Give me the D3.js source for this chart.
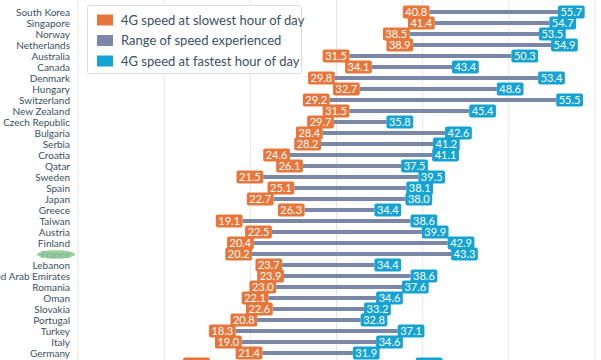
<!DOCTYPE html>
<html>
<head>
<meta charset="utf-8">
<script src="https://cdn.jsdelivr.net/npm/d3@7"></script>
<style>
  html, body { margin: 0; padding: 0; background: #fff; overflow: hidden; }
  svg { display: block; font-family: Lato, "Open Sans", sans-serif; }
</style>
</head>
<body>
<svg id="chart" width="601" height="360"></svg>
<script>
const countries = ["South Korea","Singapore","Norway","Netherlands","Australia","Canada","Denmark","Hungary","Switzerland","New Zealand","Czech Republic","Bulgaria","Serbia","Croatia","Qatar","Sweden","Spain","Japan","Greece","Taiwan","Austria","Finland","France","Lebanon","United Arab Emirates","Romania","Oman","Slovakia","Portugal","Turkey","Italy","Germany","Belgium"];
const slowest = [40.8,41.4,38.5,38.9,31.5,34.1,29.8,32.7,29.2,31.5,29.7,28.4,28.2,24.6,26.1,21.5,25.1,22.7,26.3,19.1,22.5,20.4,20.2,23.7,23.9,23.0,22.1,22.6,20.8,18.3,19.0,21.4,15.3];
const fastest = [55.7,54.7,53.5,54.9,50.3,43.4,53.4,48.6,55.5,45.4,35.8,42.6,41.2,41.1,37.5,39.5,38.1,38.0,34.4,38.6,39.9,42.9,43.3,34.4,38.6,37.6,34.6,33.2,32.8,37.1,34.6,31.9,39.2];
const legendLabels = ["4G speed at slowest hour of day","Range of speed experienced","4G speed at fastest hour of day"];
const xTicks = [0,10,20,30,40,50,60];
const highlighted = ["France"];

const colors = { slow: "#e8763a", range: "#7a87a6", fast: "#15a3d3", text: "#3b4f5e", grid: "#e6e6e6" };

const svg = d3.select("#chart");
const x = d3.scaleLinear().domain([0, 60]).range([78, 595]);
const y = d3.scalePoint().domain(countries).range([12, 12 + 11 * (countries.length - 1)]);

// grid
svg.append("g").selectAll("line").data(xTicks).join("line")
  .attr("x1", d => x(d)).attr("x2", d => x(d))
  .attr("y1", 0).attr("y2", 360)
  .attr("stroke", colors.grid).attr("stroke-width", 1);

// country labels
const lab = svg.append("g");
lab.selectAll("ellipse").data(countries.filter(c => highlighted.includes(c))).join("ellipse")
  .attr("cx", 56).attr("cy", c => y(c) + 0.5).attr("rx", 19).attr("ry", 4.2)
  .attr("fill", "#94d39a");
lab.selectAll("text").data(countries).join("text")
  .attr("x", 70).attr("y", c => y(c)).attr("dy", "0.35em")
  .attr("text-anchor", "end").attr("font-size", 10)
  .attr("fill", c => highlighted.includes(c) ? "#8faa9c" : colors.text)
  .text(c => c);

const rows = countries.map((c, i) => ({ c, lo: slowest[i], hi: fastest[i] }));

// range bars
svg.append("g").selectAll("rect").data(rows).join("rect")
  .attr("x", d => x(d.lo)).attr("width", d => x(d.hi) - x(d.lo))
  .attr("y", d => y(d.c) - 2).attr("height", 4)
  .attr("fill", colors.range);

function labels(key, color, anchorRight) {
  const g = svg.append("g").selectAll("g").data(rows).join("g");
  const t = g.append("text")
    .attr("font-size", 11).attr("fill", "#fff").attr("dy", "0.36em")
    .attr("text-anchor", "middle")
    .text(d => d[key].toFixed(1));
  t.each(function(d) {
    const w = this.getComputedTextLength() + 5;
    const left = anchorRight ? x(d[key]) - w : x(d[key]);
    d3.select(this.parentNode).insert("rect", "text")
      .attr("x", left).attr("y", y(d.c) - 6.5).attr("width", w).attr("height", 13)
      .attr("rx", 2).attr("fill", color);
    d3.select(this).attr("x", left + w / 2).attr("y", y(d.c));
  });
}
labels("lo", colors.slow, true);
labels("hi", colors.fast, false);

// legend
const lg = svg.append("g");
lg.append("rect").attr("x", 87.5).attr("y", 5.5).attr("width", 214).attr("height", 68)
  .attr("fill", "#fff").attr("stroke", "#dcdcdc").attr("rx", 2);
const lcol = [colors.slow, colors.range, colors.fast];
legendLabels.forEach((t, i) => {
  const cy = 20 + i * 20.5;
  lg.append("rect").attr("x", 97).attr("y", cy - 5.5).attr("width", 16).attr("height", 11).attr("fill", lcol[i]);
  lg.append("text").attr("x", 121).attr("y", cy).attr("dy", "0.35em")
    .attr("font-size", 13).attr("fill", colors.text).text(t);
});
</script>
</body>
</html>
